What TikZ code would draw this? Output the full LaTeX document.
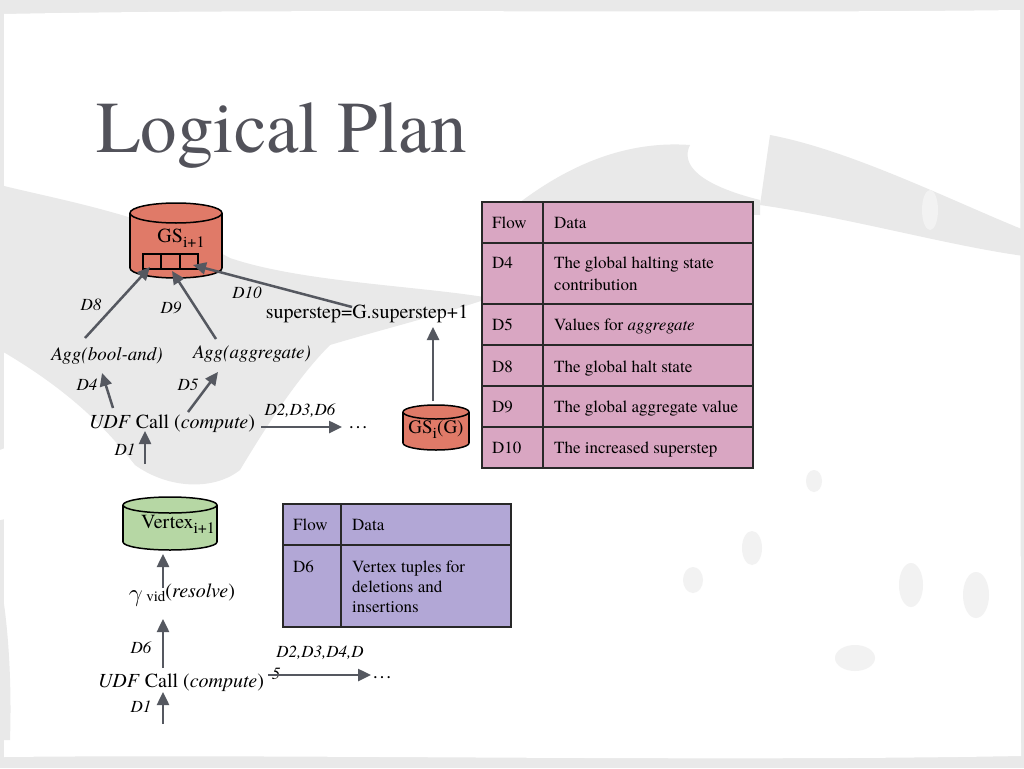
\documentclass[tikz,border=0pt]{standalone}
\usepackage{fontspec}
\IfFontExistsTF{texgyretermes-regular.otf}{%
  \setmainfont{texgyretermes}[Extension=.otf,UprightFont=*-regular,ItalicFont=*-italic,BoldFont=*-bold,BoldItalicFont=*-bolditalic]}{%
  \setmainfont{Liberation Serif}}
\usetikzlibrary{arrows.meta}
\definecolor{bggray}{RGB}{233,233,233}
\definecolor{blobgray}{RGB}{242,242,242}
\definecolor{salmon}{RGB}{224,122,104}
\definecolor{vgreen}{RGB}{182,215,164}
\definecolor{tpink}{RGB}{217,166,194}
\definecolor{tpurple}{RGB}{178,167,214}
\definecolor{arrowgray}{RGB}{85,88,96}
\definecolor{titlegray}{RGB}{82,82,90}
\definecolor{rulecol}{RGB}{40,40,40}
\newcommand{\sbx}[1]{\raisebox{-5pt}{\fontsize{16}{16}\selectfont #1}}
\newcommand{\dbcyl}[6]{%
  \fill[#6] (#1-#2,#3) rectangle (#1+#2,#4);
  \fill[#6] (#1,#4) ellipse[x radius=#2,y radius=#5];
  \begin{scope}\clip (#1-#2-5,#4) rectangle (#1+#2+5,#4+#5+5);
    \draw[cylline] (#1,#4) ellipse[x radius=#2,y radius=#5];\end{scope}
  \draw[cylline] (#1-#2,#3) -- (#1-#2,#4) (#1+#2,#3) -- (#1+#2,#4);
  \filldraw[cylline,fill=#6] (#1,#3) ellipse[x radius=#2,y radius=#5];
}
\tikzset{
  flow/.style={draw=arrowgray, line width=2.5pt, -{Triangle[length=13pt,width=12pt]}},
  lbl/.style={inner sep=0pt, anchor=base, font=\fontsize{17}{20}\selectfont\itshape},
  txt/.style={inner sep=0pt, anchor=base, font=\fontsize{20}{24}\selectfont},
  tab/.style={inner sep=0pt, anchor=base west, font=\fontsize{17}{20}\selectfont},
  cylline/.style={draw=black, line width=1.5pt},
  rules/.style={draw=rulecol, line width=1.5pt},
  blob/.style={fill=blobgray},
}
\begin{document}
\begin{tikzpicture}[x=1pt,y=-1pt]
\useasboundingbox (0,0) rectangle (1024,768);
% background
\fill[bggray] (0,0) rectangle (1024,768);
\fill[white] (4,14) .. controls (300,8) and (700,14) .. (1020,10) -- (1021,756) .. controls (700,762) and (300,754) .. (4,757) -- cycle;
\fill[bggray] (0,185) .. controls (60,200) and (150,215) .. (230,258) .. controls (300,282) and (420,286) .. (490,298) .. controls (430,318) and (380,330) .. (330,345) .. controls (300,375) and (270,420) .. (240,470) .. controls (215,490) and (170,490) .. (135,465) .. controls (100,420) and (60,385) .. (0,350) -- cycle;
\fill[white] (25,440) .. controls (60,430) and (90,460) .. (110,500) -- (0,520) -- (0,450) -- cycle;
\fill[bggray] (510,210) .. controls (560,170) and (620,140) .. (690,145) .. controls (680,165) and (700,185) .. (760,200) -- (760,215) -- cycle;
\fill[bggray] (770,135) .. controls (850,150) and (950,200) .. (1024,230) -- (1024,256) .. controls (950,246) and (850,218) .. (760,205) -- cycle;
\fill[bggray] (0,580) .. controls (8,620) and (12,680) .. (10,740) -- (0,740) -- cycle;
\fill[blob] (855,658) ellipse[x radius=20,y radius=13];
\fill[blob] (693,580) ellipse[x radius=10,y radius=13];
\fill[blob] (752,548) ellipse[x radius=10,y radius=17];
\fill[blob] (911,585) ellipse[x radius=12,y radius=22];
\fill[blob] (976,595) ellipse[x radius=13,y radius=23];
\fill[blob] (814,481) ellipse[x radius=8,y radius=11];
\fill[blob] (930,210) ellipse[x radius=8,y radius=20];

% title
\node[inner sep=0pt, anchor=base west, text=titlegray, font=\fontsize{73}{80}\selectfont] (title) at (96,152) {Logical Plan};

% ---------- upper plan ----------
\dbcyl{176}{46}{213}{268}{10}{salmon}
\node[txt] (gsn) at (181,242) {GS\sbx{i+1}};
\draw[line width=1.5pt] (143,254) rectangle (198,269) (161,254) -- (161,269) (180,254) -- (180,269);
\coordinate (c1) at (150,267);
\coordinate (c2) at (172,271);
\coordinate (c3) at (193,265);

\dbcyl{436}{33}{412}{443}{7}{salmon}
\node[txt, font=\fontsize{19}{22}\selectfont] (gsi) at (436,433) {GS\sbx{i}(G)};

\node[txt] (sstep) at (367,318) {superstep=G.superstep+1};
\node[lbl, font=\fontsize{19}{22}\selectfont\itshape] (aggb) at (107,360) {Agg(bool-and)};
\node[lbl, font=\fontsize{19}{22}\selectfont\itshape] (agga) at (252,358) {Agg(aggregate)};
\node[txt] (udf1) at (172,428) {\textit{UDF} Call (\textit{compute})};
\node[txt] (dots1) at (358,428) {\ldots};

\node[lbl] (l8) at (91,310) {D8};
\node[lbl] (l9) at (171,313) {D9};
\node[lbl] (l10) at (247,298) {D10};
\node[lbl] (l4) at (87,390) {D4};
\node[lbl] (l5) at (188,390) {D5};
\node[lbl] (l236) at (300,415) {D2,D3,D6};
\node[lbl] (l1) at (125,455) {D1};

\coordinate (a8s) at (85,338);
\coordinate (a9s) at (216,339);
\coordinate (a10s) at (352,307);
\coordinate (a4s) at (113,408);
\coordinate (a4e) at (102,373);
\coordinate (a5s) at (188,412);
\coordinate (a5e) at (218,372);
\coordinate (a6s) at (261,427);
\coordinate (a6e) at (342,427);
\coordinate (a1s) at (145,464);
\coordinate (a1e) at (145,431);
\coordinate (gss) at (433,401);
\coordinate (gse) at (433,327);

\draw[flow] (a8s) -- (c1);
\draw[flow] (a9s) -- (c2);
\draw[flow] (a10s) -- (c3);
\draw[flow] (a4s) -- (a4e);
\draw[flow] (a5s) -- (a5e);
\draw[flow] (a6s) -- (a6e);
\draw[flow] (a1s) -- (a1e);
\draw[flow] (gss) -- (gse);

% ---------- lower plan ----------
\dbcyl{170}{47}{505}{542}{8}{vgreen}
\node[txt] (vtx) at (178,528) {Vertex\sbx{i+1}};
\node[txt] (gam) at (182,601) {{\fontsize{24}{24}\selectfont$\gamma$}\,{\fontsize{15}{15}\selectfont vid}\raisebox{4pt}{(\textit{resolve})}};
\node[txt] (udf2) at (181,687) {\textit{UDF} Call (\textit{compute})};
\node[lbl] (l6) at (141,653) {D6};
\node[lbl] (l2345) at (320,657) {D2,D3,D4,D};
\node[lbl] (l5b) at (276,679) {5};
\node[txt] (dots2) at (382,678) {\ldots};
\node[lbl] (l1b) at (141,712) {D1};

\coordinate (b1s) at (163,588);
\coordinate (b1e) at (163,554);
\coordinate (b2s) at (163,668);
\coordinate (b2e) at (163,619);
\coordinate (b3s) at (163,724);
\coordinate (b3e) at (163,692);
\coordinate (b4s) at (268,675);
\coordinate (b4e) at (371,675);
\draw[flow] (b1s) -- (b1e);
\draw[flow] (b2s) -- (b2e);
\draw[flow] (b3s) -- (b3e);
\draw[flow] (b4s) -- (b4e);

% ---------- pink table ----------
\fill[tpink] (482,202) rectangle (753,468);
\draw[rules] (482,202) rectangle (753,468);
\draw[rules] (543,202) -- (543,468);
\foreach \yy in {243,304,345,386,427} \draw[rules] (482,\yy) -- (753,\yy);
\node[tab] (pf) at (492,228) {Flow};
\node[tab] (pd) at (554,228) {Data};
\node[tab] (p4) at (492,268) {D4};
\node[tab] (p4a) at (554,268) {The global halting state};
\node[tab] (p4b) at (554,290) {contribution};
\node[tab] (p5) at (492,330) {D5};
\node[tab] (p5a) at (554,330) {Values for \textit{aggregate}};
\node[tab] (p8) at (492,372) {D8};
\node[tab] (p8a) at (554,372) {The global halt state};
\node[tab] (p9) at (492,412) {D9};
\node[tab] (p9a) at (554,412) {The global aggregate value};
\node[tab] (p10) at (492,453) {D10};
\node[tab] (p10a) at (554,453) {The increased superstep};

% ---------- purple table ----------
\fill[tpurple] (283,504) rectangle (511,627);
\draw[rules] (283,504) rectangle (511,627);
\draw[rules] (341,504) -- (341,627);
\draw[rules] (283,545) -- (511,545);
\node[tab] (qf) at (293,530) {Flow};
\node[tab] (qd) at (352,530) {Data};
\node[tab] (q6) at (293,572) {D6};
\node[tab] (q6a) at (352,572) {Vertex tuples for};
\node[tab] (q6b) at (352,592) {deletions and};
\node[tab] (q6c) at (352,612) {insertions};
\end{tikzpicture}
\end{document}
